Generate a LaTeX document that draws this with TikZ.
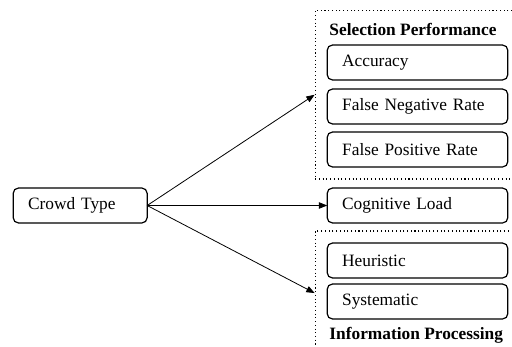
\documentclass[tikz,border=0pt]{standalone}
\usepackage{fontspec}
\setmainfont{Liberation Serif}
\usetikzlibrary{arrows.meta,positioning,fit,backgrounds}
\definecolor{ink}{HTML}{000000}
\newcommand\boxfont{\fontsize{13}{15.6}\selectfont}
\tikzset{
 box/.style={draw=ink,rounded corners=4pt,line width=.9pt,outer sep=0pt,minimum height=26.25pt,text width=113pt,inner xsep=11.25pt,align=left,text=ink},
 flow/.style={-{Triangle[length=2.2mm,width=1.7mm]},draw=ink,line width=.6pt},
 group/.style={draw=ink,dotted,line width=.8pt,inner sep=9pt},
 head/.style={font=\boxfont\bfseries,text=ink,inner sep=0pt}
}

\begin{document}
\begin{tikzpicture}[x=.75pt,y=-.75pt,font=\boxfont,node distance=6.75pt]
  \useasboundingbox (0,0) rectangle (512,347);
  \clip (0,0) rectangle (512,347);
  \node[box] (acc) at (417.5,62.5) {Accuracy};
  \node[box,below=of acc] (fnr) {False Negative Rate};
  \node[box,below=6pt of fnr] (fpr) {False Positive Rate};
  \node[box,below=15.75pt of fpr] (cog) {Cognitive Load};
  \node[box,below=15pt of cog] (heur) {Heuristic};
  \node[box,below=4.5pt of heur] (sys) {Systematic};
  \node[box,text width=78pt,left=135pt of cog] (crowd) {Crowd Type};
  \node[head,anchor=base west] (seltitle) at ([xshift=1.5pt,yshift=7.5pt]acc.north west) {Selection Performance};
  \node[head,anchor=base west] (infotitle) at ([xshift=1.5pt,yshift=-15pt]sys.south west) {Information Processing};

  \node[group,fit=(seltitle)(acc)(fpr)] (sel) {};
  \node[group,fit=(heur)(sys)(infotitle)] (info) {};

  \draw[flow] (crowd.east) -- (sel.west);
  \draw[flow] (crowd.east) -- (cog.west);
  \draw[flow] (crowd.east) -- (info.west);
\end{tikzpicture}
\end{document}
